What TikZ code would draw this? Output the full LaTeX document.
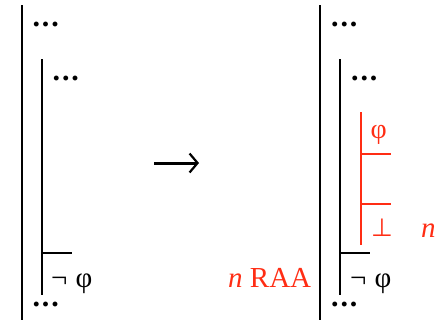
\documentclass[tikz,border=0pt]{standalone}
\usepackage{fontspec}
\setmainfont{Liberation Serif}
\newfontfamily\dvs{DejaVu Sans}
\usetikzlibrary{arrows.meta}
\definecolor{raared}{RGB}{255,45,20}
\newcommand\mydots{.\kern1.8pt.\kern1.8pt.}
\tikzset{
  bar/.style={line width=2pt, black},
  rbar/.style={line width=2pt, raared},
  txt/.style={inner sep=0pt, anchor=base west, font=\fontsize{29}{34}\selectfont},
  dots/.style={inner sep=0pt, anchor=base west, font=\fontsize{30}{34}\selectfont\bfseries},
  rtxt/.style={txt, text=raared},
}
\begin{document}
\begin{tikzpicture}[x=1pt,y=-1pt]
\useasboundingbox (0,0) rectangle (437,325);
% ---------- left derivation ----------
\draw[bar] (21.5,5) -- (21.5,320);
\draw[bar] (41.5,59) -- (41.5,295);
\draw[bar] (41.5,253.3) -- (71.7,253.3);
\node[dots] (ld1) at (32.5,26) {\mydots};
\node[dots] (ld2) at (52.5,80.5) {\mydots};
\node[txt] (ldn) at (51,287) {¬\kern8pt φ};
\node[dots] (ld3) at (32.5,306.5) {\mydots};
% ---------- arrow ----------
\coordinate (a1) at (154,163);
\coordinate (a2) at (199,163);
\draw[line width=3pt, -{Straight Barb[length=8pt,width=19pt,line width=2.2pt]}] (a1) -- (a2);
% ---------- right derivation ----------
\draw[bar] (320,5) -- (320,320);
\draw[bar] (340,59) -- (340,295);
\draw[bar] (340,253.3) -- (370,253.3);
\node[dots] (rd1) at (331,26) {\mydots};
\node[dots] (rd2) at (351,80.5) {\mydots};
\node[txt] (rdn) at (350,287) {¬\kern8pt φ};
\node[dots] (rd3) at (331,306.5) {\mydots};
% red subproof
\draw[rbar] (360.5,112) -- (360.5,245);
\draw[rbar] (360.5,154) -- (391,154);
\draw[rbar] (360.5,204.3) -- (391,204.3);
\node[rtxt] (rphi) at (370.5,138) {\fontsize{28}{32}\selectfont φ};
\node[rtxt] (rbot) at (371,236) {\dvs\fontsize{25}{28}\selectfont ⊥};
\node[rtxt] (rn) at (421,237) {\itshape n};
\node[rtxt] (raa) at (228,287.5) {\itshape n\upshape\ RAA};
\end{tikzpicture}
\end{document}
